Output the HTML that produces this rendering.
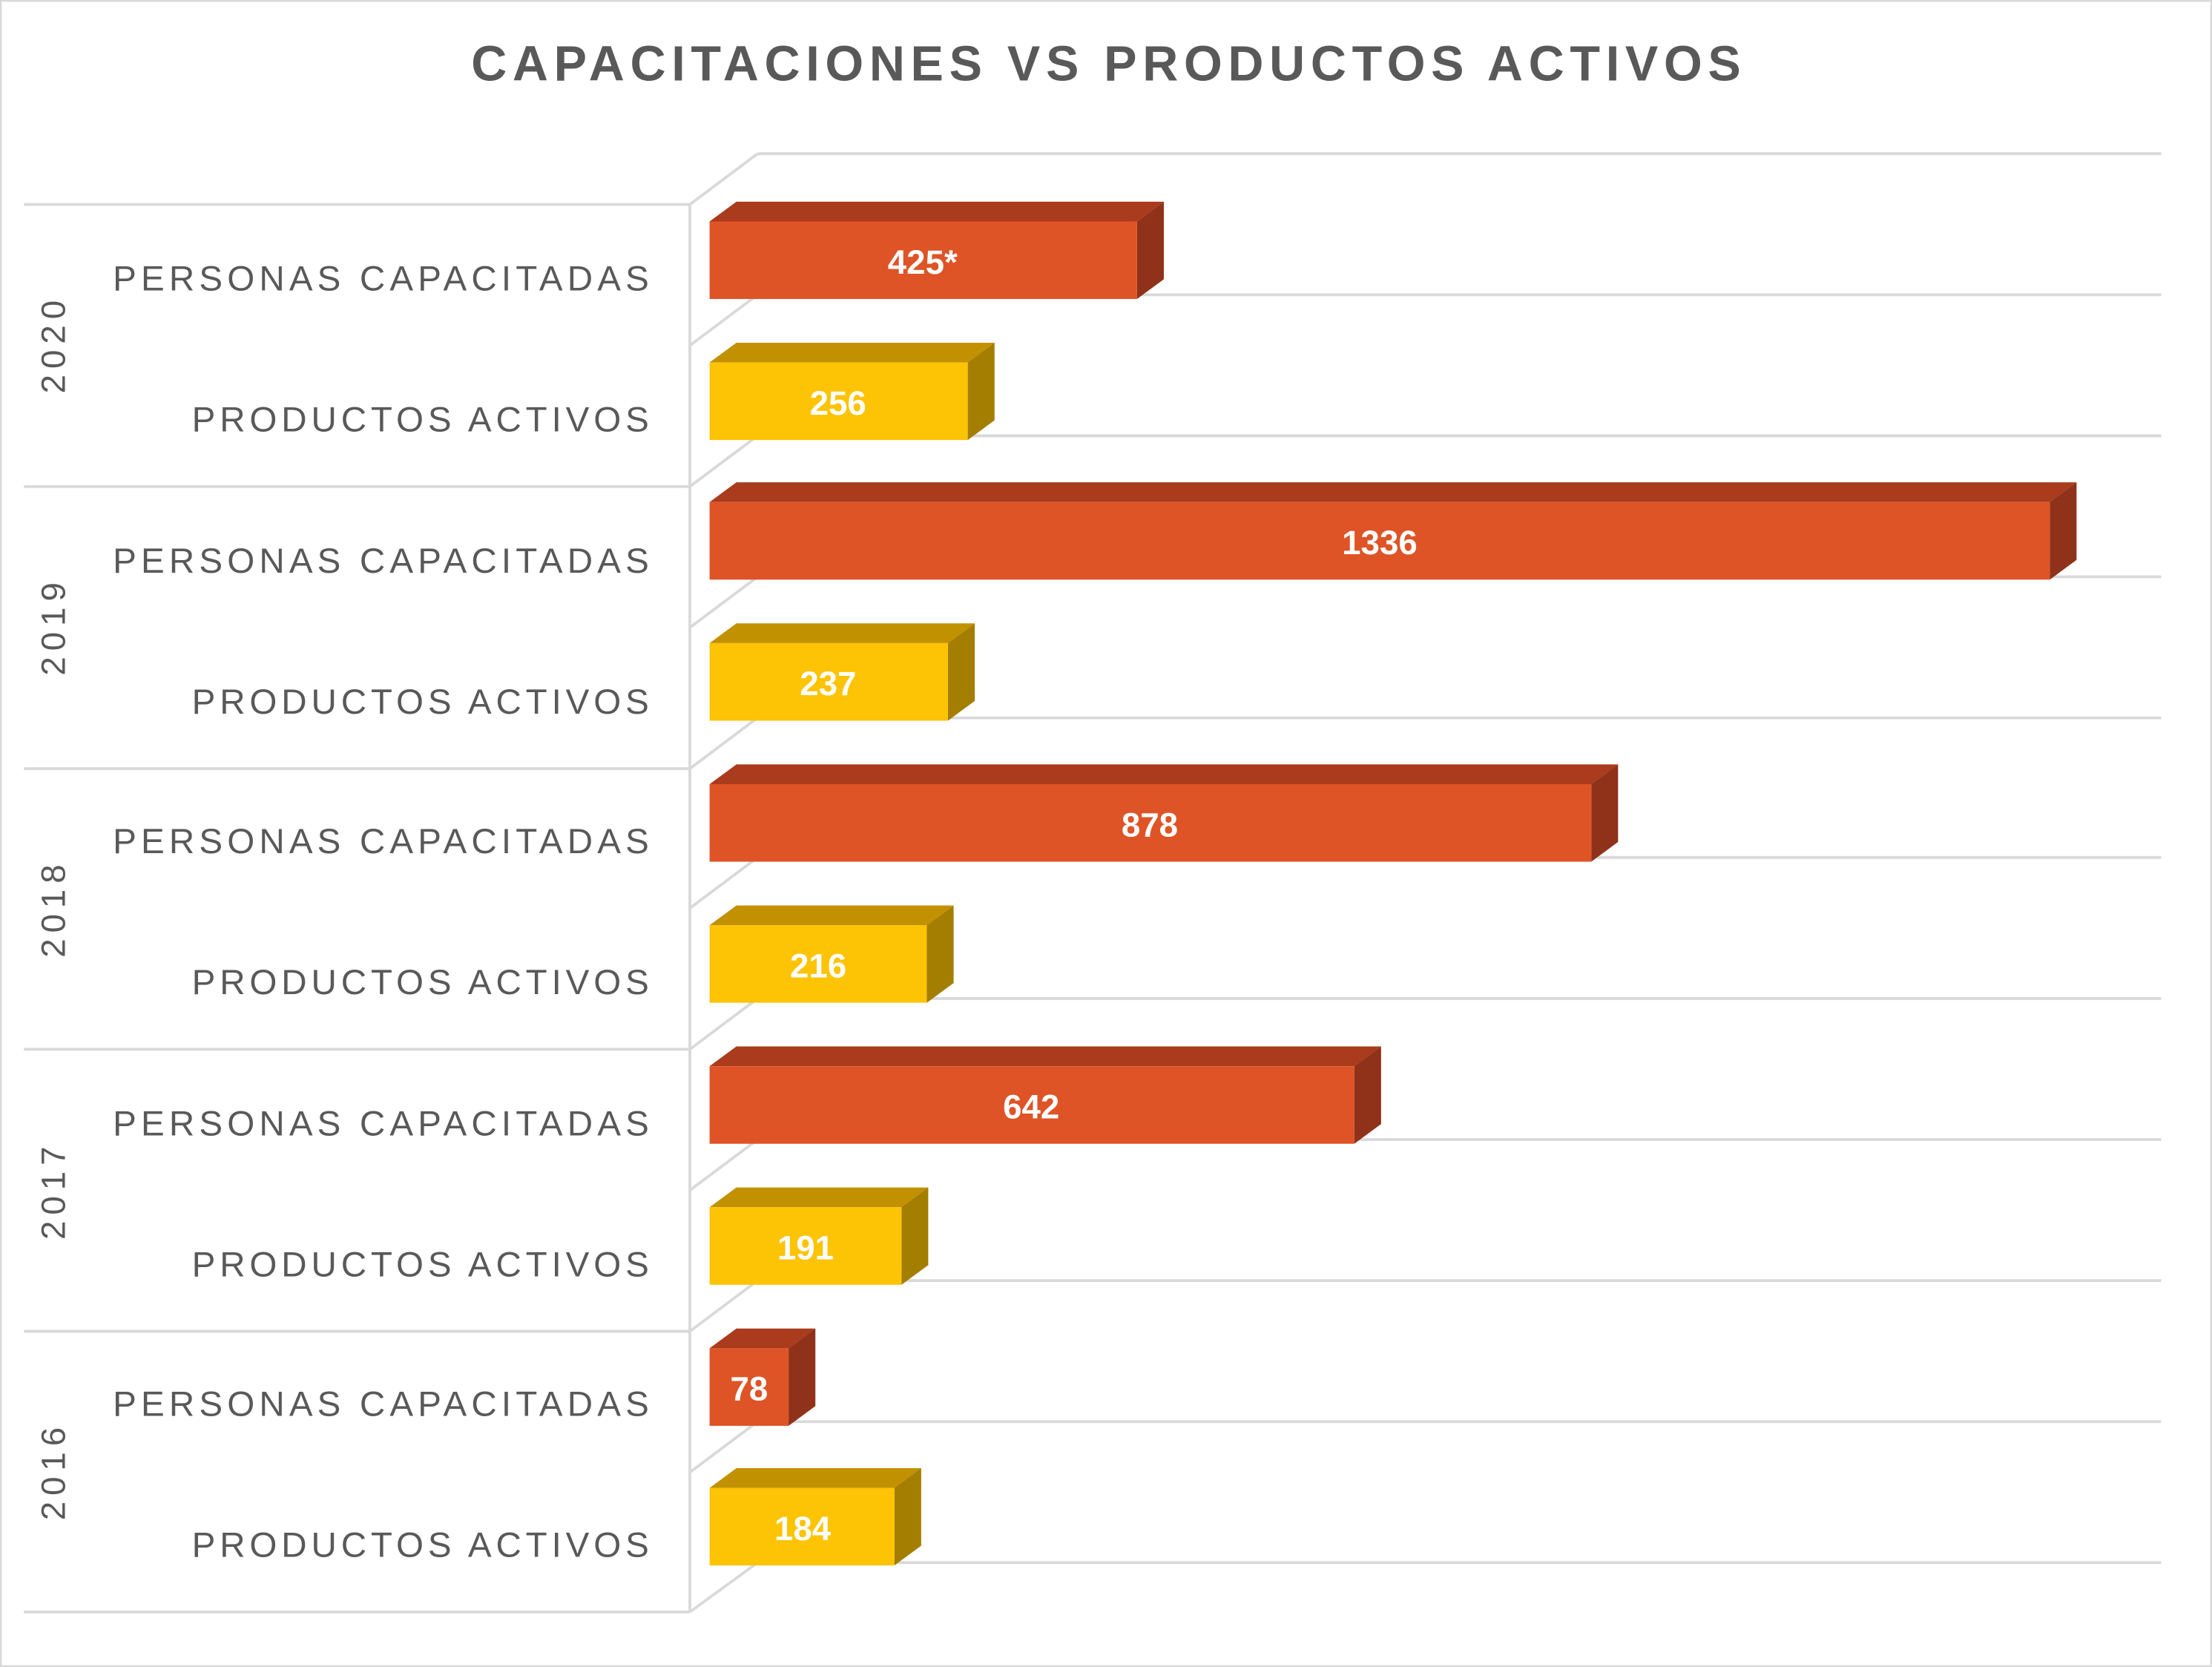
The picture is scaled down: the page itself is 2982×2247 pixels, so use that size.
<!DOCTYPE html>
<html><head><meta charset="utf-8"><style>
html,body{margin:0;padding:0;background:#fff}
svg{display:block}
</style></head><body>
<svg width="2982" height="2247" viewBox="0 0 1568 1182" preserveAspectRatio="none" xmlns="http://www.w3.org/2000/svg">
<rect x="0.5" y="0.5" width="1567" height="1181" fill="#fff" stroke="#d9d9d9" stroke-width="1.5"/>
<text x="784" y="57" text-anchor="middle" font-family="Liberation Sans, sans-serif" font-weight="bold" font-size="35" fill="#595959" textLength="900" lengthAdjust="spacing">CAPACITACIONES VS PRODUCTOS ACTIVOS</text>
<g stroke="#d9d9d9" stroke-width="2" fill="none">
<line x1="537" y1="109" x2="1532" y2="109"/>
<line x1="489" y1="145" x2="537" y2="109"/>
<line x1="489" y1="145" x2="489" y2="1143"/>
<line x1="17" y1="145" x2="489" y2="145"/>
<line x1="17" y1="345" x2="489" y2="345"/>
<line x1="17" y1="545" x2="489" y2="545"/>
<line x1="17" y1="744" x2="489" y2="744"/>
<line x1="17" y1="944" x2="489" y2="944"/>
<line x1="17" y1="1143" x2="489" y2="1143"/>
<line x1="489" y1="245" x2="537" y2="209"/><line x1="537" y1="209" x2="1532" y2="209"/>
<line x1="489" y1="345" x2="537" y2="309"/><line x1="537" y1="309" x2="1532" y2="309"/>
<line x1="489" y1="445" x2="537" y2="409"/><line x1="537" y1="409" x2="1532" y2="409"/>
<line x1="489" y1="545" x2="537" y2="509"/><line x1="537" y1="509" x2="1532" y2="509"/>
<line x1="489" y1="644" x2="537" y2="608"/><line x1="537" y1="608" x2="1532" y2="608"/>
<line x1="489" y1="744" x2="537" y2="708"/><line x1="537" y1="708" x2="1532" y2="708"/>
<line x1="489" y1="844" x2="537" y2="808"/><line x1="537" y1="808" x2="1532" y2="808"/>
<line x1="489" y1="944" x2="537" y2="908"/><line x1="537" y1="908" x2="1532" y2="908"/>
<line x1="489" y1="1044" x2="537" y2="1008"/><line x1="537" y1="1008" x2="1532" y2="1008"/>
<line x1="489" y1="1143" x2="537" y2="1108"/><line x1="537" y1="1108" x2="1532" y2="1108"/>
</g>
<g font-family="Liberation Sans, sans-serif" font-size="25" fill="#595959" text-anchor="end">
<text x="460" y="206" textLength="380">PERSONAS CAPACITADAS</text>
<text x="460" y="306" textLength="324">PRODUCTOS ACTIVOS</text>
<text x="460" y="406" textLength="380">PERSONAS CAPACITADAS</text>
<text x="460" y="506" textLength="324">PRODUCTOS ACTIVOS</text>
<text x="460" y="605" textLength="380">PERSONAS CAPACITADAS</text>
<text x="460" y="705" textLength="324">PRODUCTOS ACTIVOS</text>
<text x="460" y="805" textLength="380">PERSONAS CAPACITADAS</text>
<text x="460" y="905" textLength="324">PRODUCTOS ACTIVOS</text>
<text x="460" y="1004" textLength="380">PERSONAS CAPACITADAS</text>
<text x="460" y="1104" textLength="324">PRODUCTOS ACTIVOS</text>
</g>
<g font-family="Liberation Sans, sans-serif" font-size="24" fill="#595959" text-anchor="middle">
<text transform="translate(46,246) rotate(-90)" textLength="66">2020</text>
<text transform="translate(46,446) rotate(-90)" textLength="66">2019</text>
<text transform="translate(46,646) rotate(-90)" textLength="66">2018</text>
<text transform="translate(46,846) rotate(-90)" textLength="66">2017</text>
<text transform="translate(46,1045) rotate(-90)" textLength="66">2016</text>
</g>
<g font-family="Liberation Sans, sans-serif" font-size="24" font-weight="bold" fill="#fff" text-anchor="middle">
<polygon points="503,157 522,143 825,143 806,157" fill="#AA3B1C"/><polygon points="806,157 825,143 825,198 806,212" fill="#8F3219"/><rect x="503" y="157" width="303" height="55" fill="#DE5426"/><text x="654" y="194">425*</text>
<polygon points="503,257 522,243 705,243 686,257" fill="#C29102"/><polygon points="686,257 705,243 705,298 686,312" fill="#A47E00"/><rect x="503" y="257" width="183" height="55" fill="#FDC305"/><text x="594" y="294">256</text>
<polygon points="503,356 522,342 1472,342 1453,356" fill="#AA3B1C"/><polygon points="1453,356 1472,342 1472,397 1453,411" fill="#8F3219"/><rect x="503" y="356" width="950" height="55" fill="#DE5426"/><text x="978" y="393">1336</text>
<polygon points="503,456 522,442 691,442 672,456" fill="#C29102"/><polygon points="672,456 691,442 691,497 672,511" fill="#A47E00"/><rect x="503" y="456" width="169" height="55" fill="#FDC305"/><text x="587" y="493">237</text>
<polygon points="503,556 522,542 1147,542 1128,556" fill="#AA3B1C"/><polygon points="1128,556 1147,542 1147,597 1128,611" fill="#8F3219"/><rect x="503" y="556" width="625" height="55" fill="#DE5426"/><text x="815" y="593">878</text>
<polygon points="503,656 522,642 676,642 657,656" fill="#C29102"/><polygon points="657,656 676,642 676,697 657,711" fill="#A47E00"/><rect x="503" y="656" width="154" height="55" fill="#FDC305"/><text x="580" y="693">216</text>
<polygon points="503,756 522,742 979,742 960,756" fill="#AA3B1C"/><polygon points="960,756 979,742 979,797 960,811" fill="#8F3219"/><rect x="503" y="756" width="457" height="55" fill="#DE5426"/><text x="731" y="793">642</text>
<polygon points="503,856 522,842 658,842 639,856" fill="#C29102"/><polygon points="639,856 658,842 658,897 639,911" fill="#A47E00"/><rect x="503" y="856" width="136" height="55" fill="#FDC305"/><text x="571" y="893">191</text>
<polygon points="503,956 522,942 578,942 559,956" fill="#AA3B1C"/><polygon points="559,956 578,942 578,997 559,1011" fill="#8F3219"/><rect x="503" y="956" width="56" height="55" fill="#DE5426"/><text x="531" y="993">78</text>
<polygon points="503,1055 522,1041 653,1041 634,1055" fill="#C29102"/><polygon points="634,1055 653,1041 653,1096 634,1110" fill="#A47E00"/><rect x="503" y="1055" width="131" height="55" fill="#FDC305"/><text x="569" y="1092">184</text>
</g>
</svg>
</body></html>
